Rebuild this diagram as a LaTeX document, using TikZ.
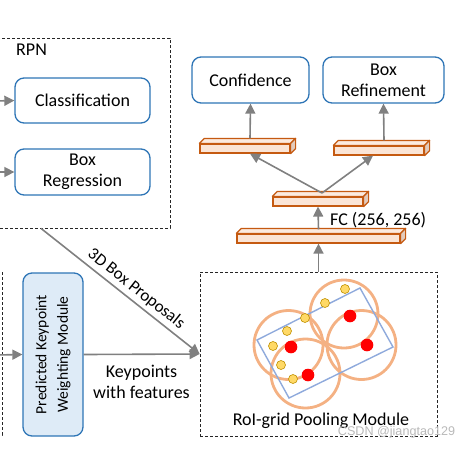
\documentclass[tikz,border=0pt]{standalone}
\usepackage{fontspec}
\setmainfont{Carlito}
\newfontfamily\wmfont{Liberation Sans}
\usetikzlibrary{arrows.meta}
\definecolor{boxblue}{HTML}{2E75B6}
\definecolor{modfill}{HTML}{DEEBF7}
\definecolor{barline}{HTML}{C55A11}
\definecolor{barfill}{HTML}{FBE5D6}
\definecolor{bartop}{HTML}{FCEBDF}
\definecolor{barside}{HTML}{E2CBBD}
\definecolor{ringcol}{HTML}{F4B183}
\definecolor{rectblue}{HTML}{8FAADC}
\definecolor{dotyel}{HTML}{FFD966}
\definecolor{dotyelline}{HTML}{BF9000}
\definecolor{arrgray}{HTML}{808080}
\newcommand\barfaces[1]{%
  \draw[barface, fill=bartop] (#1.north west) -- ++(5,-5) -- ([shift={(5,-5)}]#1.north east) -- (#1.north east) -- cycle;
  \draw[barface, fill=barside] (#1.north east) -- ++(5,-5) -- ([shift={(5,-5)}]#1.south east) -- (#1.south east) -- cycle;}
\begin{document}
\begin{tikzpicture}[x=1pt,y=-1pt,
  txt/.style={font=\fontsize{18}{21}\selectfont},
  rbox/.style={draw=boxblue, line width=1.3pt, rounded corners=9pt, fill=white, align=center, txt, inner sep=0pt},
  dbox/.style={draw=black!85, dash pattern=on 3pt off 2pt, line width=0.8pt, inner sep=0pt},
  arr/.style={draw=arrgray, line width=1.6pt, -{Triangle[length=10pt,width=10pt]}},
  barfront/.style={draw=barline, fill=barfill, line width=1.2pt, inner sep=0pt, minimum height=9pt},
  barface/.style={draw=barline, line width=1.2pt, line join=round},
  ring/.style={draw=ringcol, line width=2.8pt},
  ydot/.style={fill=dotyel, draw=dotyelline, line width=0.6pt},
  rdot/.style={fill=red}
]
\useasboundingbox (0,0) rectangle (471,448);
\clip (0,0) rectangle (471,448);

% RPN box
\node[dbox, minimum width=190pt, minimum height=190pt] (rpn) at (75,133) {};
\node[txt, anchor=west, inner sep=0pt] (rpnlabel) at (16,50) {RPN};
\node[rbox, minimum width=135pt, minimum height=45pt] (cls) at (82.5,100.5) {Classification};
\node[rbox, minimum width=135pt, minimum height=46pt] (reg) at (82.5,172) {Box\\Regression};
\coordinate (inA) at (-5,101);
\coordinate (inB) at (-5,172);
\draw[arr] (inA) -- (cls.west);
\draw[arr] (inB) -- (reg.west);

% output boxes
\node[rbox, minimum width=117pt, minimum height=46pt] (conf) at (250.5,80) {Confidence};
\node[rbox, minimum width=121pt, minimum height=46pt] (refine) at (383.5,80) {Box\\Refinement};

% FC bars
\node[barfront, minimum width=90pt] (barL) at (245,148.5) {};
\barfaces{barL}
\node[barfront, minimum width=90pt] (barR) at (379,150.5) {};
\barfaces{barR}
\node[barfront, minimum width=90pt] (barM) at (318,201.5) {};
\barfaces{barM}
\node[barfront, minimum width=163pt] (barB) at (318.5,238.5) {};
\barfaces{barB}

\coordinate (apex) at (322,193);
\draw[arr] ([xshift=5pt,yshift=5pt]barL.north) -- (conf.south);
\draw[arr] ([xshift=5pt,yshift=5pt]barR.north) -- (refine.south);
\draw[arr] (apex) -- ([xshift=5pt]barL.south);
\draw[arr] (apex) -- ([xshift=-6pt]barR.south);
\draw[arr] ([yshift=4pt]barB.north) -- (barM.south);
\node[txt, anchor=west, inner sep=0pt] (fclabel) at (330,220) {FC (256, 256)};

% RoI box
\node[dbox, minimum width=237pt, minimum height=164pt] (roi) at (318.5,354) {};
\draw[arr] (roi.north) -- (barB.south);
\node[txt, inner sep=0pt] (roilabel) at (321,421) {RoI-grid Pooling Module};

% rings, box, points
\draw[ring] (288.5,345) circle (34.5);
\draw[ring] (305.5,373.5) circle (34.5);
\draw[ring] (344,314) circle (34);
\draw[ring] (361.5,345) circle (34.5);
\draw[draw=rectblue, line width=1.4pt] (257,340) -- (360,288) -- (393,347) -- (289,398) -- cycle;
\foreach \p in {(345,289),(325,303),(305,318),(287,331),(273,346),(281,365),(293,379)}
  \fill[ydot] \p circle (4.5);
\foreach \p in {(350,316),(367,345),(291,347),(308,375)}
  \fill[rdot] \p circle (6.3);

% left lower box and module
\node[dbox, minimum width=30pt, minimum height=163pt] (leftbox) at (-13,353.5) {};
\node[draw=boxblue, fill=modfill, line width=1.3pt, rounded corners=9pt, minimum width=60pt, minimum height=163pt, inner sep=0pt] (mod) at (53,354.5) {};
\node[rotate=90, align=center, font=\fontsize{15.5}{21.5}\selectfont] (modlabel) at (mod.center) {Predicted Keypoint\\Weighting Module};
\coordinate (inC) at (-5,355);
\draw[arr] (inC) -- (mod.west);
\draw[arr] (mod.east) -- (roi.west);
\node[txt, align=center, inner sep=0pt] (kplabel) at (141.5,382) {Keypoints\\with features};

% proposals arrow
\draw[arr] ([xshift=-34pt]rpn.south) -- node[sloped, above, pos=0.555, font=\fontsize{17}{20}\selectfont, inner sep=3.5pt] (proplabel) {3D Box Proposals} (roi.west);

% watermark
\node[font=\wmfont\fontsize{12.6}{14}\selectfont, text=gray!55, inner sep=0pt] (wm) at (396.5,432) {CSDN @jiangtao129};
\end{tikzpicture}
\end{document}
